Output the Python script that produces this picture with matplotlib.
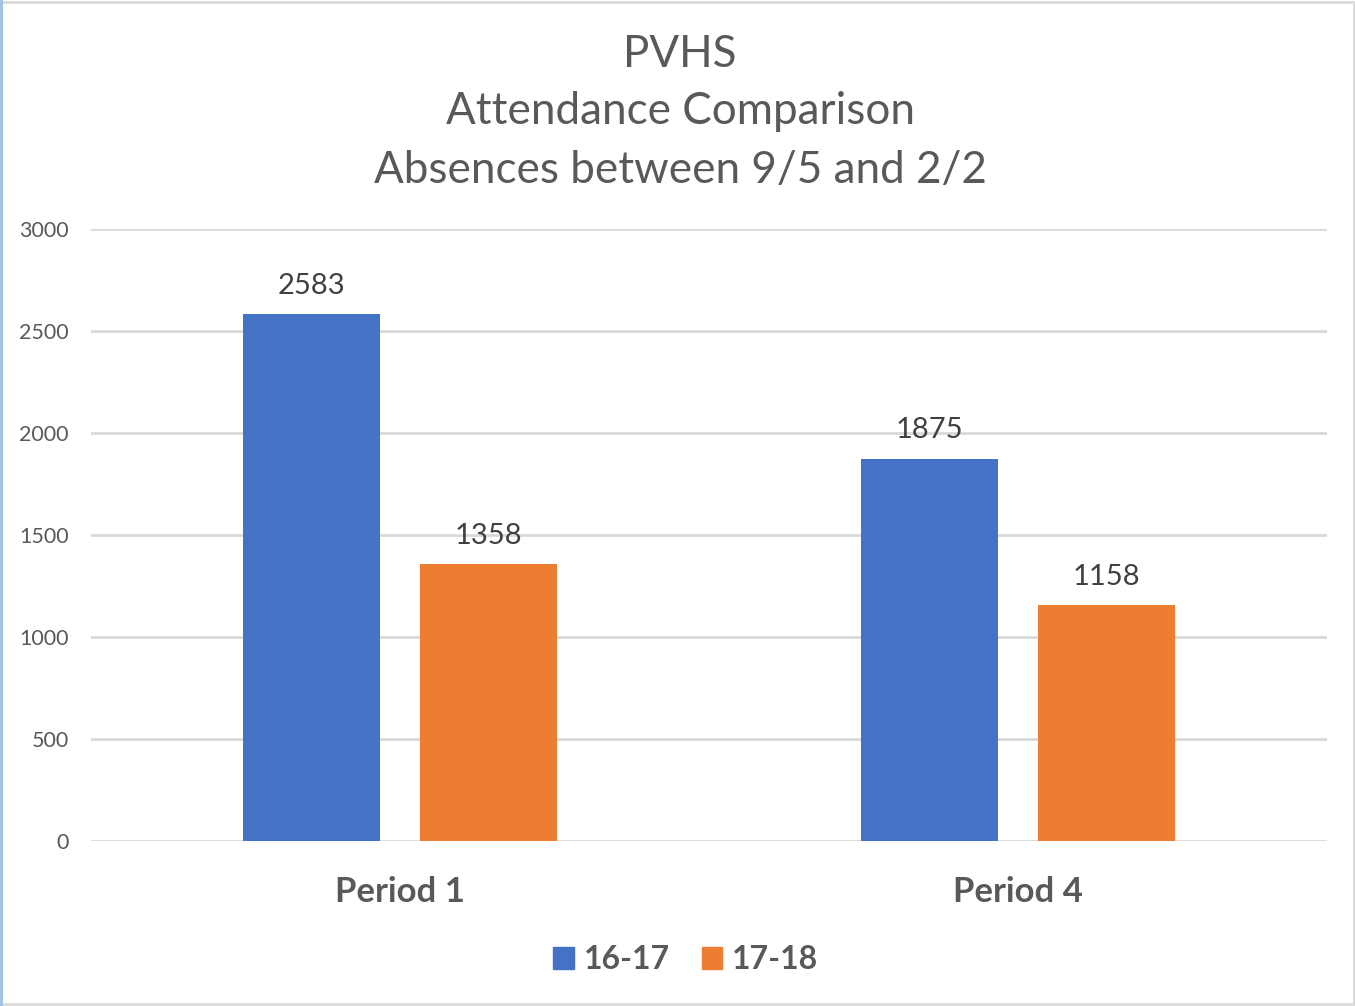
import matplotlib.pyplot as plt
import numpy as np
from matplotlib.patches import Rectangle
from matplotlib.lines import Line2D

# data
categories = ['Period 1', 'Period 4']
series_names = ['16-17', '17-18']
values_1617 = [2583, 1875]
values_1718 = [1358, 1158]
colors = ['#4472C4', '#ED7D31']
yticks = [0, 500, 1000, 1500, 2000, 2500, 3000]

plt.rcParams['font.family'] = ['Lato', 'DejaVu Sans']
text_gray = '#595959'

fig = plt.figure(figsize=(13.55, 10.06), dpi=100)
ax = fig.add_axes([0.0672, 0.164, 0.9122, 0.6083])

x = np.arange(len(categories))
width = 0.222
offset = 0.143
bars1 = ax.bar(x - offset, values_1617, width, color=colors[0], label=series_names[0], zorder=3)
bars2 = ax.bar(x + offset, values_1718, width, color=colors[1], label=series_names[1], zorder=3)

# value labels above bars
for bars in (bars1, bars2):
    for b in bars:
        ax.annotate(f"{int(b.get_height())}", (b.get_x() + b.get_width() / 2, b.get_height()),
                    xytext=(0, 11), textcoords='offset points', ha='center', va='bottom',
                    fontsize=21, color='#404040')

ax.set_xlim(-0.5, 1.5)
ax.set_ylim(0, 3000)
ax.set_yticks(yticks)
ax.set_yticklabels([str(t) for t in yticks], fontsize=15.5, color=text_gray)
ax.set_xticks(x)
ax.set_xticklabels(categories, fontsize=25, fontweight='bold', color=text_gray)
ax.tick_params(axis='both', length=0)
ax.tick_params(axis='y', pad=16)
ax.tick_params(axis='x', pad=25)

ax.grid(axis='y', color='#d9d9d9', linewidth=2, zorder=0)
for s in ax.spines.values():
    s.set_visible(False)

# title
fig.text(0.502, 0.946, 'PVHS', ha='center', va='center', fontsize=31.7, color=text_gray)
fig.text(0.502, 0.889, 'Attendance Comparison', ha='center', va='center', fontsize=31.7, color=text_gray)
fig.text(0.502, 0.831, 'Absences between 9/5 and 2/2', ha='center', va='center', fontsize=31.7, color=text_gray)

# legend
handles = [Rectangle((0, 0), 1, 1, color=c) for c in colors]
leg = fig.legend(handles, series_names, loc='center', bbox_to_anchor=(0.506, 0.046), ncol=2,
                 frameon=False, fontsize=23, handlelength=0.65, handleheight=0.65,
                 handletextpad=0.3, columnspacing=1.0)
for t in leg.get_texts():
    t.set_color(text_gray)
    t.set_fontweight('bold')

# faint frame around the picture, blue-ish left edge
fig.patches.append(Rectangle((0.001, 0.002), 0.998, 0.996, transform=fig.transFigure,
                             fill=False, edgecolor='#d9d9d9', linewidth=2))
fig.lines.append(Line2D([0.001, 0.001], [0, 1], transform=fig.transFigure,
                        color='#9dc3e6', linewidth=2))

fig.savefig('out.png', dpi=100, facecolor='white')
